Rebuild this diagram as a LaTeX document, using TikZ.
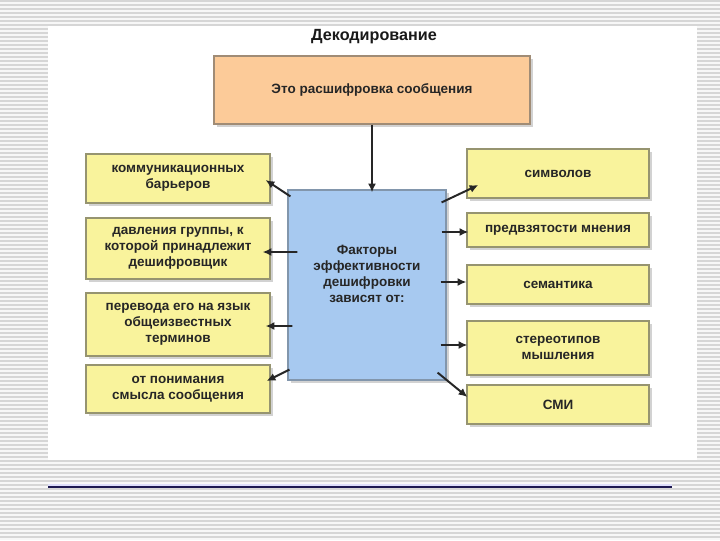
\documentclass[tikz,border=0pt]{standalone}
\usepackage{fontspec}
\setmainfont{Liberation Sans}
\usetikzlibrary{arrows.meta, calc, shadows}

\definecolor{stripegray}{RGB}{214,214,214}
\definecolor{orangefill}{RGB}{252,203,153}
\definecolor{orangeline}{RGB}{160,140,118}
\definecolor{yellowfill}{RGB}{249,243,156}
\definecolor{yellowline}{RGB}{150,148,112}
\definecolor{bluefill}{RGB}{167,201,240}
\definecolor{blueline}{RGB}{130,150,172}
\definecolor{navyline}{RGB}{28,24,80}
\definecolor{lavender}{RGB}{222,222,250}

\newcommand{\boxfont}{\fontsize{9.6}{11.3}\selectfont\bfseries}

\tikzset{
    box_orange/.style={
        rectangle, draw=orangeline, line width=0.8pt, fill=orangefill,
        minimum width=7.9cm, minimum height=1.7cm, text=black!85,
        align=center, font=\boxfont,
        drop shadow={shadow xshift=2pt, shadow yshift=-2pt, opacity=0.35}
    },
    box_blue/.style={
        rectangle, draw=blueline, line width=0.8pt, fill=bluefill,
        minimum width=3.95cm, minimum height=4.75cm,
        drop shadow={shadow xshift=2pt, shadow yshift=-2pt, opacity=0.35}
    },
    box_yellow/.style={
        rectangle, draw=yellowline, line width=0.8pt, fill=yellowfill,
        minimum width=4.6cm, text=black!85,
        align=center, font=\boxfont,
        drop shadow={shadow xshift=2pt, shadow yshift=-2pt, opacity=0.35}
    },
    box_yellow_r/.style={
        box_yellow, minimum width=4.55cm
    },
    link_arrow/.style={
        -{Latex[length=0.22cm, width=0.2cm]}, draw=black!85, line width=1.4pt
    },
    title_lbl/.style={
        font=\fontsize{11.5}{13}\selectfont\bfseries, text=black!90
    },
    plain_lbl/.style={
        font=\boxfont, text=black!85, align=center
    }
}

\begin{document}
\begin{tikzpicture}[x=0.025cm, y=-0.025cm]

    \useasboundingbox (0,0) rectangle (720,540);
    \fill[gray!6] (0,0) rectangle (720,540);
    \foreach \i in {1,5,...,540} {
        \draw[stripegray, line width=0.05cm] (0,\i) -- (720,\i);
    }
    \fill[white] (48,26) rectangle (697,460);
    \draw[lavender, line width=0.05cm] (48,484.5) -- (672,484.5);
    \draw[navyline, line width=1.1pt] (48,487) -- (672,487);

    \node[title_lbl] (title) at (374,37) {Декодирование};

    \node[box_orange, minimum height=1.7cm] (decoding) at (372,90) {Это расшифровка сообщения};

    \node[box_blue] (factors) at (367,285) {};
    \node[plain_lbl] (factorsText) at (367,274) {Факторы\\эффективности\\дешифровки\\зависят от:};

    \node[box_yellow, minimum height=1.225cm] (barriers) at (178,178.5) {коммуникационных\\барьеров};
    \node[box_yellow, minimum height=1.525cm] (pressure) at (178,248.5) {давления группы, к\\которой принадлежит\\дешифровщик};
    \node[box_yellow, minimum height=1.575cm] (translation) at (178,324.5) {перевода его на язык\\общеизвестных\\терминов};
    \node[box_yellow, minimum height=1.2cm] (meaning) at (178,389) {от понимания\\смысла сообщения};

    \node[box_yellow_r, minimum height=1.225cm] (symbols) at (558,173.5) {символов};
    \node[box_yellow_r, minimum height=0.85cm] (bias) at (558,230) {предвзятости мнения};
    \node[box_yellow_r, minimum height=0.975cm] (semantics) at (558,284.5) {семантика};
    \node[box_yellow_r, minimum height=1.35cm] (stereotypes) at (558,348) {стереотипов\\мышления};
    \node[box_yellow_r, minimum height=0.975cm] (media) at (558,404.5) {СМИ};

    \draw[link_arrow] (decoding.south) -- ($(decoding.south |- factors.north)+(0,3)$);

    \draw[link_arrow] ([shift={(3,7)}]factors.north west) -- ([shift={(-5,1.5)}]barriers.east);
    \draw[link_arrow] ([shift={(10,-33)}]factors.west) -- ([shift={(-8,3.5)}]pressure.east);
    \draw[link_arrow] ([shift={(5,41)}]factors.west) -- ([shift={(-5,1.5)}]translation.east);
    \draw[link_arrow] ([shift={(2,-11)}]factors.south west) -- ([shift={(-4,-8)}]meaning.east);

    \draw[link_arrow] ([shift={(-5,13)}]factors.north east) -- ([shift={(12,11.5)}]symbols.west);
    \draw[link_arrow] ([shift={(-5,-53)}]factors.east) -- ([shift={(2,2)}]bias.west);
    \draw[link_arrow] ([shift={(-6,-3)}]factors.east) -- ([shift={(0,-2.5)}]semantics.west);
    \draw[link_arrow] ([shift={(-6,60)}]factors.east) -- ([shift={(1,-3)}]stereotypes.west);
    \draw[link_arrow] ([shift={(-9,-8)}]factors.south east) -- ([shift={(1,-7.5)}]media.west);

\end{tikzpicture}
\end{document}
